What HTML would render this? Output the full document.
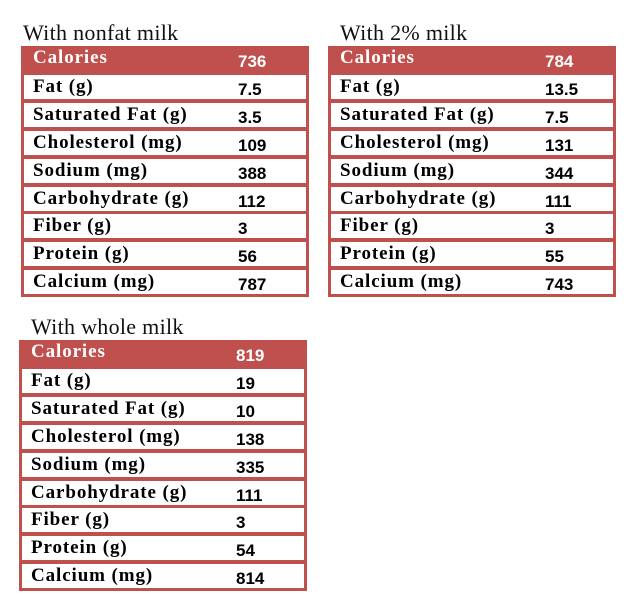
<!DOCTYPE html>
<html><head><style>
body{margin:0;width:634px;height:605px;background:#fff;position:relative;overflow:hidden}
.t{position:absolute;width:288px;height:251px;background:#c0504d}
.ti{position:absolute;font:22px "Liberation Serif",serif;letter-spacing:0.3px;color:#111}
.r{position:absolute;left:3px;right:3px;height:24px;background:#fff}
.l{position:absolute;left:9px;font:bold 19px "Liberation Serif",serif;letter-spacing:0.9px;color:#000;white-space:nowrap}
.v{position:absolute;left:214px;font:bold 17px "Liberation Sans",sans-serif;color:#000}
.h .l{left:12px}.h .v{left:217px}
.h .l,.h .v{color:#fff}
</style></head><body>
<div class="ti" style="left:23px;top:20px">With nonfat milk</div>
<div class="ti" style="left:340px;top:20px">With 2% milk</div>
<div class="ti" style="left:31px;top:314px">With whole milk</div>
<div id="a"></div>
<script>
const rows=["Calories","Fat (g)","Saturated Fat (g)","Cholesterol (mg)","Sodium (mg)","Carbohydrate (g)","Fiber (g)","Protein (g)","Calcium (mg)"];
const data=[[21,46,["736","7.5","3.5","109","388","112","3","56","787"]],
[328,46,["784","13.5","7.5","131","344","111","3","55","743"]],
[19,340,["819","19","10","138","335","111","3","54","814"]]];
let h="";
for(const [x,y,v] of data){
 h+=`<div class="t" style="left:${x}px;top:${y}px">`;
 for(let i=0;i<9;i++){
  const top=i*27.8;
  if(i==0){h+=`<div class="h" style="position:absolute;left:0;right:0;top:0;height:27px"><div class="l" style="top:1px">${rows[i]}</div><div class="v" style="top:6px">${v[i]}</div></div>`;}
  else{h+=`<div class="r" style="top:${top+1.5}px"><div class="l" style="top:1px">${rows[i]}</div><div class="v" style="top:5px">${v[i]}</div></div>`;}
 }
 h+=`</div>`;
}
document.getElementById("a").innerHTML=h;
</script>
</body></html>
